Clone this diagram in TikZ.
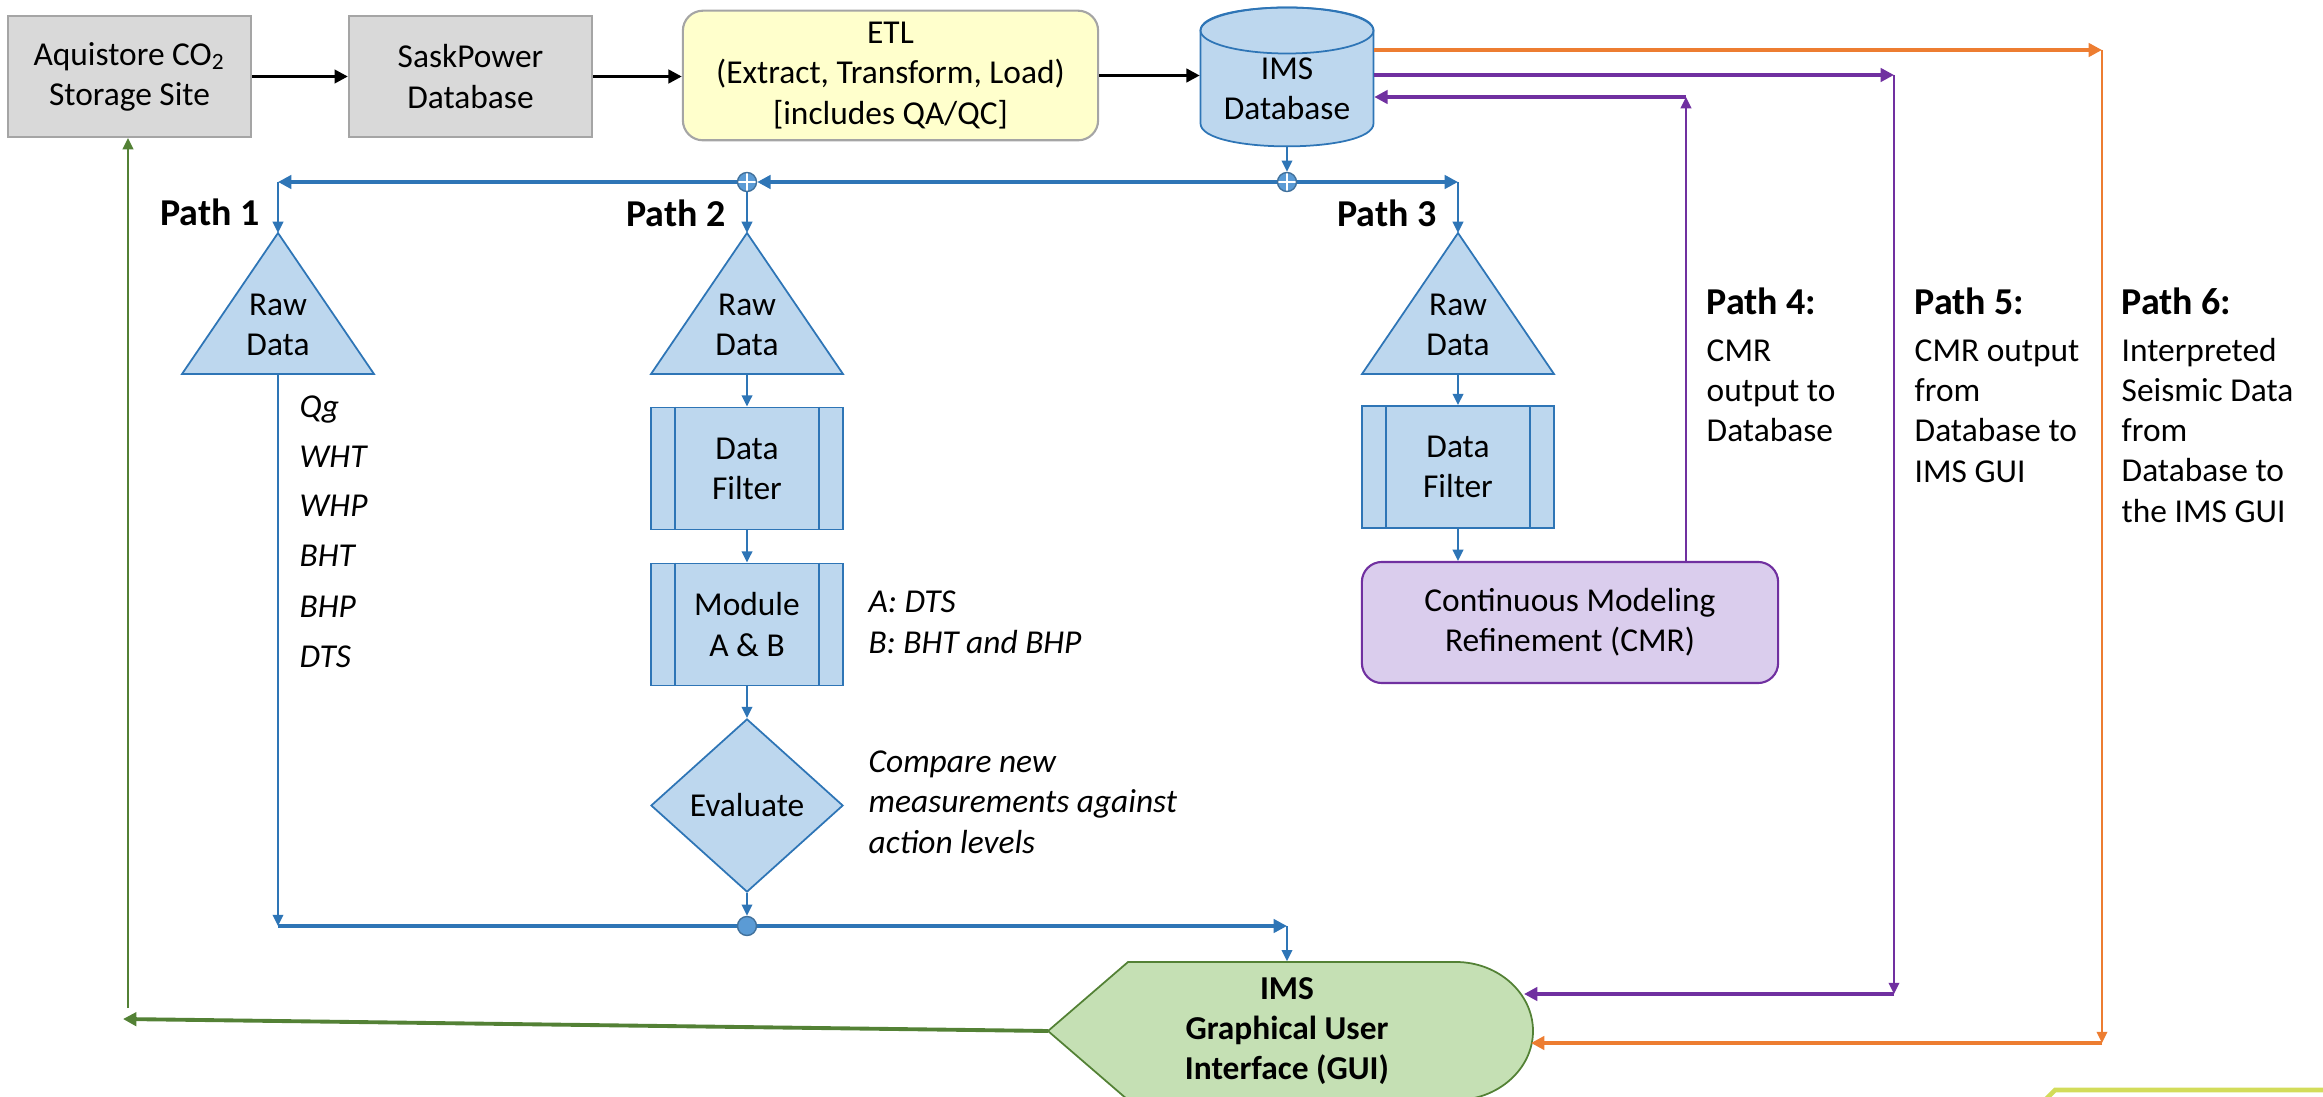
\documentclass[tikz,border=0pt]{standalone}
\usepackage{fontspec}
\setmainfont{Carlito}
\usetikzlibrary{positioning,shapes.geometric,arrows.meta}

\definecolor{boxgray}{HTML}{A5A5A5}
\definecolor{fillgray}{HTML}{D9D9D9}
\definecolor{etlfill}{HTML}{FFFFCC}
\definecolor{blueline}{HTML}{2E75B6}
\definecolor{bluefill}{HTML}{BDD7EE}
\definecolor{juncfill}{HTML}{5B9BD5}
\definecolor{juncline}{HTML}{41719C}
\definecolor{purpline}{HTML}{7030A0}
\definecolor{purpfill}{HTML}{DACDED}
\definecolor{orangeline}{HTML}{ED7D31}
\definecolor{greenline}{HTML}{538135}
\definecolor{guifill}{HTML}{C5E0B4}
\definecolor{limeline}{HTML}{D2DC5A}

\newcommand{\pathhead}[1]{{\fontsize{10.8}{11.4}\selectfont\bfseries #1}}

\begin{document}
\begin{tikzpicture}[x=0.01cm,y=-0.01cm,
  font=\fontsize{9.5}{11.4}\selectfont,
  graybox/.style={draw=boxgray,line width=0.6pt,fill=fillgray,minimum width=2.43cm,minimum height=1.21cm,align=center,inner sep=0},
  etlbox/.style={draw=boxgray,line width=0.6pt,fill=etlfill,rounded corners=0.2cm,minimum width=4.15cm,minimum height=1.23cm,align=center},
  bluebox/.style={draw=blueline,line width=0.5pt,fill=bluefill,minimum width=1.92cm,minimum height=1.22cm,align=center},
  bluefilled/.style={draw=blueline,line width=0.5pt,fill=bluefill},
  cmrbox/.style={draw=purpline,line width=0.6pt,fill=purpfill,rounded corners=0.2cm,minimum width=4.16cm,minimum height=1.21cm,align=center},
  evalbox/.style={diamond,aspect=1.11,draw=blueline,line width=0.5pt,fill=bluefill,minimum width=1.92cm,minimum height=1.73cm,inner sep=0},
  junc/.style={circle,draw=juncline,fill=juncfill,line width=0.4pt,minimum size=0.19cm,inner sep=0},
  juncplus/.style={junc,path picture={\draw[white,line width=0.5pt] (path picture bounding box.north) -- (path picture bounding box.south) (path picture bounding box.west) -- (path picture bounding box.east);}},
  guishape/.style={draw=greenline,line width=0.5pt,fill=guifill},
  textonly/.style={align=center,inner sep=0},
  pathlabel/.style={font=\fontsize{10.8}{11.4}\selectfont\bfseries,anchor=base,inner sep=0},
  note/.style={font=\fontsize{9.5}{11.4}\selectfont\itshape,anchor=base west,inner sep=0,align=left},
  pathtext/.style={align=left,anchor=base west,inner sep=0},
  thickarrow/.style={line width=1.1pt,-{Triangle[length=3.8pt,width=3.8pt]}},
  thinarrow/.style={line width=0.6pt,-{Triangle[length=3.2pt,width=3pt]}},
  blackarrow/.style={line width=0.9pt,-{Triangle[length=3.8pt,width=3.8pt]}}]

\useasboundingbox (0,0) rectangle (2323,1097);

% top row
\node[graybox] (aq) at (129.5,76.5) {Aquistore CO\textsubscript{2}\\Storage Site};
\node[graybox] (sp) at (470.5,76.5) {SaskPower\\Database};
\node[etlbox] (etl) at (890.5,75.5) {ETL\\(Extract, Transform, Load)\\{}[includes QA/QC]};
\filldraw[bluefilled] (1200.5,30.5) -- (1200.5,123.5) .. controls (1200.5,154) and (1373.5,154) .. (1373.5,123.5) -- (1373.5,30.5) .. controls (1373.5,-0.2) and (1200.5,-0.2) .. (1200.5,30.5) -- cycle;
\draw[blueline,line width=0.5pt] (1287,30.5) ellipse [x radius=86.5,y radius=23];
\node[textonly,minimum width=1.73cm,minimum height=1.14cm] (db) at (1287,89) {IMS\\Database};

\draw[blackarrow] (aq.east) -- (sp.west);
\draw[blackarrow] (sp.east) -- (sp.east -| etl.west);
\draw[blackarrow] (etl.east) -- (etl.east -| db.west);

% splitting into the paths
\node[juncplus] (j1) at (747,182) {};
\node[juncplus] (j2) at (1287,182) {};
\coordinate (p1corner) at (278,182);
\coordinate (p3corner) at (1458,182);
\draw[thinarrow,blueline] (db.south) -- (j2.north);
\draw[thickarrow,blueline] (j2.west) -- (j1.east);
\draw[thickarrow,blueline] (j1.west) -- (p1corner);
\draw[thickarrow,blueline] (j2.east) -- (p3corner);

\node[pathlabel] (lab1) at (210,226) {Path 1};
\node[pathlabel] (lab2) at (676,227) {Path 2};
\node[pathlabel] (lab3) at (1387,227) {Path 3};

% raw data triangles
\coordinate (raw1top) at (278,233);
\coordinate (raw2top) at (747,233);
\coordinate (raw3top) at (1458,233);
\filldraw[bluefilled] (raw1top) -- ++(-96,141) -- ++(192,0) -- cycle;
\filldraw[bluefilled] (raw2top) -- ++(-96,141) -- ++(192,0) -- cycle;
\filldraw[bluefilled] (raw3top) -- ++(-96,141) -- ++(192,0) -- cycle;
\node[textonly] (raw1) at (278,325) {Raw\\Data};
\node[textonly] (raw2) at (747,325) {Raw\\Data};
\node[textonly] (raw3) at (1458,325) {Raw\\Data};
\coordinate (raw1base) at (278,374);
\coordinate (raw2base) at (747,374);
\coordinate (raw3base) at (1458,374);
\draw[thinarrow,blueline] (p1corner) -- (raw1top);
\draw[thinarrow,blueline] (j1.south) -- (raw2top);
\draw[thinarrow,blueline] (p3corner) -- (raw3top);

% path 1
\node[note] (qg) at (299,417) {Qg};
\node[note] (wht) at (299,467) {WHT};
\node[note] (whp) at (299,517) {WHP};
\node[note] (bht) at (299,567) {BHT};
\node[note] (bhp) at (299,617) {BHP};
\node[note] (dts) at (299,667) {DTS};

% path 2
\node[bluebox] (flt2) at (747,468.5) {Data\\Filter};
\node[bluebox] (mod2) at (747,624.5) {Module\\A \& B};
\node[evalbox] (eval) at (747,805.5) {Evaluate};
\draw[blueline,line width=0.5pt] (flt2.north west) ++(25,0) -- ++(0,122) (flt2.north east) ++(-25,0) -- ++(0,122);
\draw[blueline,line width=0.5pt] (mod2.north west) ++(25,0) -- ++(0,122) (mod2.north east) ++(-25,0) -- ++(0,122);
\node[note] (modnote) at (868,653) {A: DTS\\B: BHT and BHP};
\node[note] (evalnote) at (868,853) {Compare new\\measurements against\\action levels};
\draw[thinarrow,blueline] (raw2base) -- (flt2.north);
\draw[thinarrow,blueline] (flt2.south) -- (mod2.north);
\draw[thinarrow,blueline] (mod2.south) -- (eval.north);

% path 3
\node[bluebox] (flt3) at (1458,467) {Data\\Filter};
\draw[blueline,line width=0.5pt] (flt3.north west) ++(25,0) -- ++(0,122) (flt3.north east) ++(-25,0) -- ++(0,122);
\node[cmrbox] (cmr) at (1570,622.5) {Continuous Modeling\\Refinement (CMR)};
\draw[thinarrow,blueline] (raw3base) -- (flt3.north);
\draw[thinarrow,blueline] (flt3.south) -- (flt3.south |- cmr.north);

% GUI
\filldraw[guishape] (1128,962) -- (1456,962) .. controls (1498,962) and (1533,993) .. (1533,1031) .. controls (1533,1069) and (1498,1100) .. (1456,1100) -- (1128,1100) -- (1048,1031) -- cycle;
\node[textonly,font=\fontsize{9.5}{11.4}\selectfont\bfseries,minimum height=1.38cm] (gui) at (1287,1031) {IMS\\Graphical User\\Interface (GUI)};

% collecting to the GUI
\node[junc] (j3) at (747,926) {};
\coordinate (p1bottom) at (278,926);
\coordinate (guicorner) at (1287,926);
\draw[thinarrow,blueline] (raw1base) -- (p1bottom);
\draw[blueline,line width=1.1pt] (p1bottom) -- (j3.west);
\draw[thinarrow,blueline] (eval.south) -- (j3.north);
\draw[thickarrow,blueline] (j3.east) -- (guicorner);
\draw[thinarrow,blueline] (guicorner) -- (gui.north);

% paths 4 to 6
\coordinate (p4top) at (1686,97);
\coordinate (p5top) at (1894,75);
\coordinate (p5bottom) at (1894,994);
\coordinate (p6top) at (2102,50);
\coordinate (p6bottom) at (2102,1043);
\coordinate (guiedge5) at (1524,994);
\coordinate (guiedge6) at (1531,1043);
\draw[thinarrow,purpline] (p4top |- cmr.north) -- (p4top);
\draw[thickarrow,purpline] (p4top) -- (p4top -| db.east);
\draw[thickarrow,purpline] (p5top -| db.east) -- (p5top);
\draw[thinarrow,purpline] (p5top) -- (p5bottom);
\draw[thickarrow,purpline] (p5bottom) -- (guiedge5);
\draw[thickarrow,orangeline] (p6top -| db.east) -- (p6top);
\draw[thinarrow,orangeline] (p6top) -- (p6bottom);
\draw[thickarrow,orangeline] (p6bottom) -- (guiedge6);

\node[pathtext] (p4text) at (1706,442) {\pathhead{Path 4:}\\[2pt]CMR\\output to\\Database};
\node[pathtext] (p5text) at (1914,482) {\pathhead{Path 5:}\\[2pt]CMR output\\from\\Database to\\IMS GUI};
\node[pathtext] (p6text) at (2121,522) {\pathhead{Path 6:}\\[2pt]Interpreted\\Seismic Data\\from\\Database to\\the IMS GUI};

% back to the storage site
\coordinate (guitip) at (1048,1031);
\coordinate (greenend) at (123,1019);
\coordinate (greenstart) at (128,1008);
\draw[thickarrow,greenline] (guitip) -- (greenend);
\draw[thinarrow,greenline] (greenstart) -- (greenstart |- aq.south);

% cut off shape at the corner
\draw[limeline,line width=1.3pt] (2043,1102) -- (2055,1090) -- (2330,1090);
\end{tikzpicture}
\end{document}
